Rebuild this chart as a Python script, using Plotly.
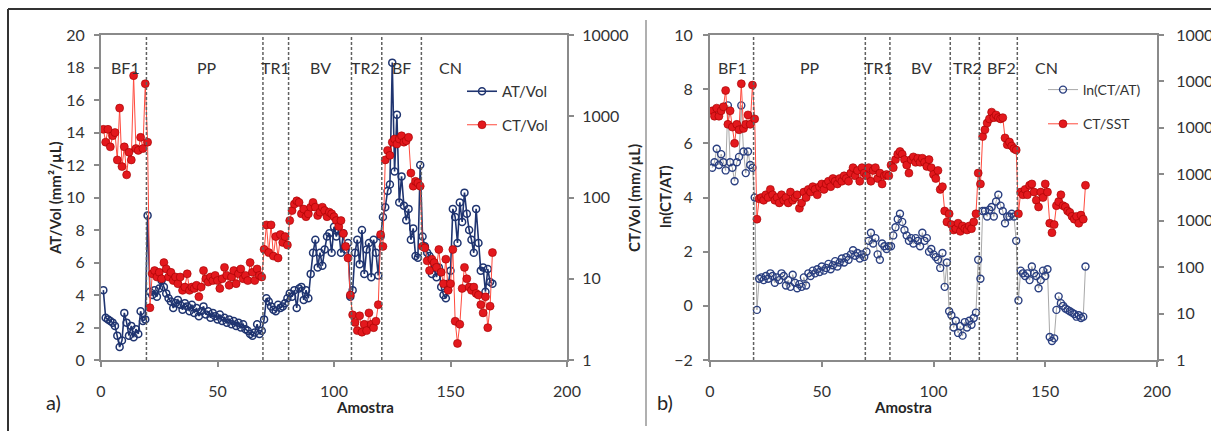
import plotly.graph_objects as go

W, H = 1211, 431

samples = list(range(1, 169))

# Panel a) AT/Vol (mm2/uL), left axis
at_vol = (
    [4.3, 2.6, 2.5, 2.4, 2.3, 2.1, 1.5, 0.8, 1.2, 2.9, 2.3, 1.5, 2.1, 1.4, 1.9, 1.6, 3.0, 2.4, 2.5, 8.9]
    + [4.2, 4.0, 4.3, 3.9, 4.4, 4.9, 4.5, 4.1, 3.8, 3.6, 3.2, 3.5, 3.7, 3.4, 3.1, 3.5, 3.3, 3.0, 3.4, 2.9,
       3.2, 2.7, 3.0, 3.3, 2.8, 3.0, 2.6, 2.9, 2.7, 2.5, 2.8, 2.4, 2.6, 2.3, 2.5, 2.2, 2.4, 2.1, 2.3, 2.0,
       2.2, 1.9, 1.8, 1.6, 1.5, 1.7, 2.2, 1.6, 1.8]
    + [2.5, 3.8, 3.6, 3.3, 3.1, 3.0, 3.4, 3.2, 3.3, 3.5, 3.8]
    + [4.1, 3.9, 4.3, 3.2, 4.4, 4.5, 3.7, 4.3, 3.8, 5.3, 6.6, 7.4, 5.7, 6.6, 5.8, 6.8, 7.6, 7.8, 6.6, 8.2,
       7.6, 8.0, 6.6, 7.8, 6.8, 7.2, 3.9]
    + [4.3, 6.6, 7.4, 5.9, 8.0, 5.3, 6.8, 7.2, 5.1, 7.4, 6.6, 5.2, 7.6]
    + [8.8, 9.4, 10.4, 10.8, 18.3, 11.6, 15.1, 9.7, 11.3, 9.5, 8.6, 9.3, 7.4, 8.1, 6.4, 6.3, 12.0]
    + [7.6, 7.0, 6.6, 6.4, 5.3, 5.9, 5.1, 5.7, 4.5, 4.0, 3.8, 4.7, 5.5, 9.3, 8.8, 7.2, 9.7, 8.5, 10.3, 9.0,
       8.0, 7.4, 6.6, 9.3, 7.2, 5.5, 5.7, 4.2, 5.6, 4.8, 4.7]
)

# Panel a) CT/Vol (mm/uL), right log axis
ct_vol = (
    [690, 480, 690, 420, 575, 630, 290, 1260, 240, 420, 190, 360, 290, 3160, 400, 380, 550, 400, 2510, 480]
    + [4.4, 11.5, 12.6, 10.5, 12.0, 10, 15.8, 13.2, 10.5, 12.0, 9.5, 10.5, 8.7, 10.5, 7.2, 7.9, 11.5, 7.2, 7.9, 7.6,
       8.3, 6.0, 7.9, 12.6, 10, 9.1, 10.5, 9.5, 11.0, 9.5, 7.6, 10, 13.8, 11.0, 8.3, 10.5, 12.6, 8.7, 11.5, 13.2,
       10, 11.0, 9.5, 15.8, 12.0, 9.5, 13.2, 11.0, 10.5]
    + [23, 46, 21, 46, 19, 33, 18, 35, 28, 33, 26]
    + [52, 69, 83, 91, 87, 63, 72, 58, 63, 76, 87, 76, 60, 66, 76, 69, 58, 66, 63, 58,
       52, 44, 52, 36, 25, 18, 6.3]
    + [3.6, 2.9, 2.3, 3.5, 2.2, 2.75, 2.3, 3.8, 2.75, 2.5, 3.0, 4.8, 35]
    + [25, 290, 380, 330, 480, 525, 455, 525, 575, 480, 500, 550, 200, 138, 158, 151, 138]
    + [25, 24, 16.6, 12.6, 17.4, 15.8, 13.8, 22.9, 12.0, 8.7, 17.4, 7.2, 8.7, 22.9, 3.0, 1.6, 2.75, 7.6, 13.8, 10,
       7.9, 7.2, 7.9, 6.6, 6.3, 4.8, 3.8, 6.0, 2.5, 4.6, 21]
)

# Panel b) ln(CT/AT), left axis
ln_ct_at = (
    [5.1, 5.3, 5.8, 5.2, 5.6, 5.3, 5.0, 7.4, 5.3, 5.1, 4.6, 5.3, 5.5, 7.4, 5.7, 4.9, 5.7, 5.2, 5.1, 4.0]
    + [-0.15, 1.0, 1.05, 0.95, 1.1, 1.0, 1.2, 1.1, 0.85, 1.05, 0.95, 1.2, 1.1, 0.75, 0.95, 0.7, 1.15, 0.85, 0.65, 0.8,
       0.7, 1.05, 0.75, 1.2, 1.1, 1.3, 1.2, 1.35, 1.25, 1.45, 1.3, 1.4, 1.55, 1.35, 1.5, 1.65, 1.45, 1.6, 1.75, 1.6,
       1.8, 1.7, 1.9, 2.05, 1.85, 1.95, 1.75, 1.9, 1.8]
    + [2.0, 2.4, 2.7, 2.3, 2.5, 1.9, 1.7, 2.3, 2.2, 2.1, 2.2]
    + [2.2, 2.6, 2.9, 3.2, 3.4, 3.1, 2.8, 2.6, 2.4, 2.5, 2.3, 2.5, 2.4, 2.2, 2.7, 2.4, 2.5, 2.0, 2.1, 1.9,
       1.8, 1.7, 1.4, 1.95, 0.7, 1.6, -0.2]
    + [-0.35, -0.8, -0.55, -1.0, -0.75, -1.1, -0.6, -0.8, -0.55, -0.7, -0.45, -0.25, 1.7]
    + [1.0, 3.5, 3.5, 3.3, 3.55, 3.65, 3.3, 3.85, 4.1, 3.7, 3.5, 3.05, 3.3, 3.3, 3.4, 3.3, 2.4]
    + [0.2, 1.3, 1.2, 1.1, 1.2, 0.95, 1.45, 1.2, 1.1, 0.65, 0.95, 1.3, 1.1, 1.35, -1.15, -1.3, -1.2, -0.15, 0.35, 0.1,
       0.0, -0.1, -0.15, -0.2, -0.25, -0.3, -0.4, -0.35, -0.45, -0.4, 1.45]
)

# Panel b) CT/SST, right log axis
ct_sst = (
    [233000, 178000, 266000, 178000, 233000, 285000, 637000, 119000, 233000, 104000,
     46400, 119000, 90900, 891000, 97200, 119000, 190000, 119000, 833000, 156000]
    + [1080, 2960, 3160, 2760, 3620, 3160, 4730, 3620, 2760, 3160, 2420, 3620, 2760, 3160, 2420, 4140, 2760, 3160, 3620, 1850,
       2420, 4140, 3160, 4730, 4140, 5410, 4730, 3620, 5410, 6190, 4730, 6190, 7080, 5410, 8100, 7080, 6190, 8100, 7080, 9260,
       8100, 7080, 10600, 13900, 9260, 12100, 7080, 13900, 10600]
    + [9260, 13900, 7080, 12100, 13900, 8100, 10600, 6190, 9260, 9900, 9260]
    + [15800, 13900, 20700, 27100, 31000, 27100, 20700, 15800, 10600, 20700, 23700, 18100, 22200, 18100, 22200, 18100,
       14800, 20700, 13900, 9900, 8100, 12100, 4730, 5410, 1620, 944, 1410]
    + [826, 631, 675, 883, 590, 772, 675, 631, 772, 675, 944, 1410, 10600]
    + [6190, 64900, 90900, 127000, 156000, 218000, 166000, 190000, 166000, 156000, 166000, 60700, 43400, 49600, 40600,
       35500, 33200]
    + [1410, 4140, 3620, 4730, 3620, 5790, 6190, 4140, 2760, 1980, 4140, 3160, 6190, 4140, 883, 552, 826, 2110, 2580, 3620,
       2110, 1980, 1620, 1510, 1240, 1080, 1240, 883, 1320, 1080, 5790]
)

for name, arr in [("at_vol", at_vol), ("ct_vol", ct_vol), ("ln_ct_at", ln_ct_at), ("ct_sst", ct_sst)]:
    if len(arr) != len(samples):
        raise ValueError(f"{name} has {len(arr)} values")

boundaries = [19.5, 69.5, 80.5, 107.5, 120.5, 137.5]
zones_a = ["BF1", "PP", "TR1", "BV", "TR2", "BF", "CN"]
zones_b = ["BF1", "PP", "TR1", "BV", "TR2", "BF2", "CN"]
zone_pos_a = [10.3, 45.5, 75, 94.4, 113.7, 128.8, 149.8]
zone_pos_b = [9.9, 44.8, 75.2, 94.5, 115, 130.3, 150.5]

log_ticks_a = [1, 10, 100, 1000, 10000]
log_ticks_b = [1, 10, 100, 1000, 10000, 100000, 1000000, 10000000]

FONT = "Lato"
TXT = "#333333"
NAVY = "#1f3470"
RED = "#e3181d"
AX = "#8a8a8a"


def px(x):
    return x / W


def py(y):
    return 1 - y / H


fig = go.Figure()

fig.add_trace(go.Scatter(
    x=samples, y=at_vol, name="AT/Vol", mode="lines+markers",
    xaxis="x", yaxis="y", legend="legend", legendgroup="a1",
    line=dict(color=NAVY, width=1.6),
    marker=dict(symbol="circle-open", size=7, color=NAVY, line=dict(width=1.5, color=NAVY)),
))
fig.add_trace(go.Scatter(
    x=samples, y=ct_vol, name="CT/Vol", mode="lines+markers",
    xaxis="x", yaxis="y2", legend="legend", legendgroup="a2",
    line=dict(color="#ff4a3d", width=1),
    marker=dict(symbol="circle", size=8, color=RED, line=dict(width=0.6, color="#a00000")),
))
fig.add_trace(go.Scatter(
    x=samples, y=ln_ct_at, name="ln(CT/AT)", mode="lines+markers",
    xaxis="x2", yaxis="y3", legend="legend2", legendgroup="b1",
    line=dict(color="#a8a8a8", width=1),
    marker=dict(symbol="circle-open", size=7, color="#2a3f80", line=dict(width=1.4, color="#2a3f80")),
))
fig.add_trace(go.Scatter(
    x=samples, y=ct_sst, name="CT/SST", mode="lines+markers",
    xaxis="x2", yaxis="y4", legend="legend2", legendgroup="b2",
    line=dict(color="#ff4a3d", width=1),
    marker=dict(symbol="circle", size=8, color=RED, line=dict(width=0.6, color="#a00000")),
))

tickfont = dict(family=FONT, size=16, color=TXT)
common_x = dict(range=[0, 200], tickvals=[0, 50, 100, 150, 200], ticks="outside", ticklen=5,
                tickcolor=AX, tickwidth=1.5, showline=True, linecolor=AX, linewidth=2, mirror=True,
                showgrid=False, zeroline=False, tickfont=tickfont, automargin=False,
                ticklabelstandoff=11)
common_y = dict(ticks="outside", ticklen=5, tickcolor=AX, tickwidth=1.5, showline=True, linecolor=AX,
                linewidth=2, mirror=True, showgrid=False, zeroline=False, tickfont=tickfont, automargin=False)
ydom = [py(360), py(35)]

fig.update_layout(
    template="none",
    width=W, height=H, autosize=False,
    margin=dict(l=0, r=0, t=0, b=0),
    paper_bgcolor="white", plot_bgcolor="white",
    font=dict(family=FONT, color=TXT),
    xaxis=dict(domain=[px(101), px(567)], anchor="y", **common_x),
    yaxis=dict(domain=ydom, anchor="x", range=[0, 20], dtick=2, ticklabelstandoff=6, **common_y),
    yaxis2=dict(overlaying="y", side="right", anchor="x", type="log", range=[0, 4],
                tickvals=log_ticks_a, ticktext=[str(v) for v in log_ticks_a], ticklabelstandoff=5,
                **common_y),
    xaxis2=dict(domain=[px(710), px(1157)], anchor="y3", **common_x),
    yaxis3=dict(domain=ydom, anchor="x2", range=[-2, 10], dtick=2, ticklabelstandoff=7, **common_y),
    yaxis4=dict(overlaying="y3", side="right", anchor="x2", type="log", range=[0, 7],
                tickvals=log_ticks_b, ticktext=[str(v) for v in log_ticks_b], ticklabelstandoff=9,
                **common_y),
    legend=dict(x=px(462), y=py(75), xanchor="left", yanchor="top", bgcolor="rgba(0,0,0,0)",
                font=dict(family=FONT, size=15, color=TXT), itemwidth=30, tracegroupgap=11,
                traceorder="grouped"),
    legend2=dict(x=px(1043), y=py(74), xanchor="left", yanchor="top", bgcolor="rgba(0,0,0,0)",
                 font=dict(family=FONT, size=14, color=TXT), itemwidth=30, tracegroupgap=13,
                 traceorder="grouped"),
    showlegend=True,
)

shapes = []
for xr in ["x", "x2"]:
    for b in boundaries:
        shapes.append(dict(type="line", xref=xr, yref="y domain" if xr == "x" else "y3 domain",
                           x0=b, x1=b, y0=0, y1=1,
                           line=dict(color="#606060", width=1.5, dash="3px,2px")))
# outer frame and divider
shapes.append(dict(type="line", xref="paper", yref="paper", x0=px(8), x1=1.0, y0=py(9), y1=py(9),
                   line=dict(color="#333333", width=2)))
shapes.append(dict(type="line", xref="paper", yref="paper", x0=px(8), x1=px(8), y0=py(9), y1=0,
                   line=dict(color="#333333", width=2)))
shapes.append(dict(type="line", xref="paper", yref="paper", x0=px(646), x1=px(646), y0=py(20), y1=py(426),
                   line=dict(color="#b0b0b0", width=2)))
fig.update_layout(shapes=shapes)

ann = []
for z, xp in zip(zones_a, zone_pos_a):
    ann.append(dict(text=z, x=xp, xref="x", y=py(56), yref="paper", showarrow=False,
                    font=dict(family=FONT, size=16, color=TXT)))
for z, xp in zip(zones_b, zone_pos_b):
    ann.append(dict(text=z, x=xp, xref="x2", y=py(56), yref="paper", showarrow=False,
                    font=dict(family=FONT, size=16, color=TXT)))

title_font = dict(family=FONT, size=15, color="#262626")
ann.append(dict(text="<b>AT/Vol (mm²/µL)</b>", x=px(44), y=py(198), xref="paper", yref="paper",
                textangle=-90, showarrow=False, font=title_font))
ann.append(dict(text="<b>CT/Vol (mm/µL)</b>", x=px(634), y=py(198), xref="paper", yref="paper",
                textangle=-90, showarrow=False, font=title_font))
ann.append(dict(text="<b>ln(CT/AT)</b>", x=px(665), y=py(197), xref="paper", yref="paper",
                textangle=-90, showarrow=False, font=title_font))
ann.append(dict(text="<b>Amostra</b>", x=px(334), y=py(418), xref="paper", yref="paper",
                showarrow=False, font=title_font))
ann.append(dict(text="<b>Amostra</b>", x=px(934), y=py(418), xref="paper", yref="paper",
                showarrow=False, font=title_font))
ann.append(dict(text="a)", x=px(44), y=py(416), xref="paper", yref="paper",
                showarrow=False, font=dict(family=FONT, size=20, color="#262626")))
ann.append(dict(text="b)", x=px(665), y=py(416), xref="paper", yref="paper",
                showarrow=False, font=dict(family=FONT, size=20, color="#262626")))
fig.update_layout(annotations=ann)

fig.write_html("out.html", config={"displayModeBar": False},
               post_script="document.body.style.margin='0';document.body.style.overflow='hidden';")
